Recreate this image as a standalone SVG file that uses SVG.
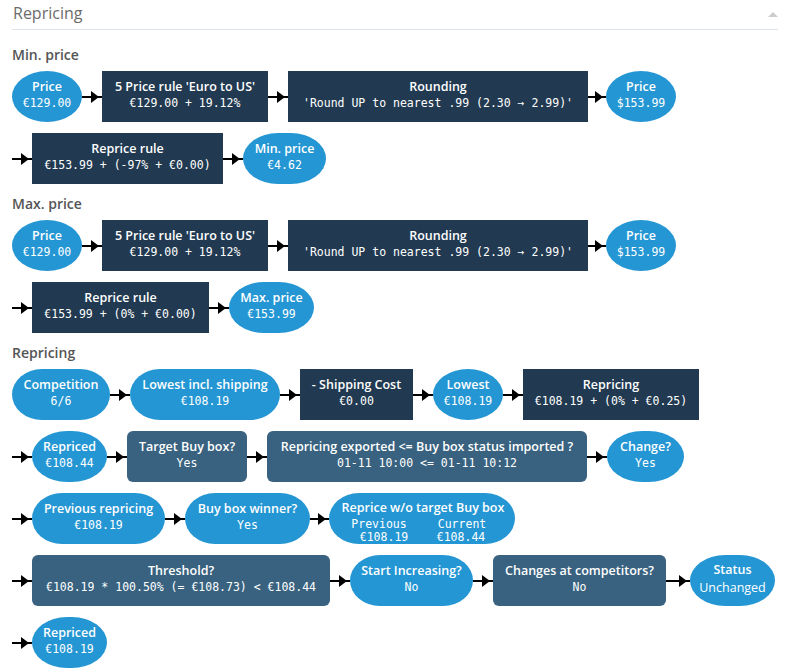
<svg xmlns="http://www.w3.org/2000/svg" width="788" height="672" viewBox="0 0 788 672">
<style>
.pill{fill:#2496d3}
.dk{fill:#213a51}
.md{fill:#38627f}
.t{font-family:"Open Sans",sans-serif;font-weight:600;font-size:12.5px;fill:#fff;text-anchor:middle}
.v{font-family:"DejaVu Sans Mono",monospace;font-size:11.5px;fill:#fff;text-anchor:middle}
.h{font-family:"Open Sans",sans-serif;font-size:14px;fill:#555}
.c{stroke:#000;stroke-width:2;fill:none}
</style>
<defs>
<g id="ah"><path d="M-4,-6 L4,0 L-4,6 Z" fill="#000"/></g>
</defs>
<rect width="788" height="672" fill="#fff"/>
<text x="13" y="19" class="h" style="font-size:16px;fill:#6b6b6b">Repricing</text>
<path d="M768,17 L773,12 L778,17 Z" fill="#ccc"/>
<line x1="12" y1="29.5" x2="778" y2="29.5" stroke="#dde3ea"/>
<text x="12" y="60" class="h" style="font-weight:600">Min. price</text>
<text x="12" y="209" class="h" style="font-weight:600">Max. price</text>
<text x="12" y="358" class="h" style="font-weight:600">Repricing</text>

<g id="connectors">
<g class="c">
<path d="M82,97H102M268,97H288M588,97H606M12,159H32M223,159H243"/>
<path d="M82,246H102M268,246H288M588,246H606M12,308H32M209,308H229"/>
<path d="M110,395H130M280,395H300M413,395H433M503,395H523"/>
<path d="M12,457H32M107,457H127M247,457H267M587,457H607"/>
<path d="M12,519H32M165,519H185M310,519H329"/>
<path d="M12,581H32M330,581H350M473,581H493M666,581H690M12,643H32"/>
</g>
<use href="#ah" x="95" y="97"/><use href="#ah" x="281" y="97"/><use href="#ah" x="599" y="97"/><use href="#ah" x="25" y="159"/><use href="#ah" x="236" y="159"/>
<use href="#ah" x="95" y="246"/><use href="#ah" x="281" y="246"/><use href="#ah" x="599" y="246"/><use href="#ah" x="25" y="308"/><use href="#ah" x="222" y="308"/>
<use href="#ah" x="123" y="395"/><use href="#ah" x="293" y="395"/><use href="#ah" x="426" y="395"/><use href="#ah" x="516" y="395"/>
<use href="#ah" x="25" y="457"/><use href="#ah" x="120" y="457"/><use href="#ah" x="260" y="457"/><use href="#ah" x="600" y="457"/>
<use href="#ah" x="25" y="519"/><use href="#ah" x="178" y="519"/><use href="#ah" x="322" y="519"/>
<use href="#ah" x="25" y="581"/><use href="#ah" x="343" y="581"/><use href="#ah" x="486" y="581"/><use href="#ah" x="683" y="581"/><use href="#ah" x="25" y="643"/>
</g>

<g id="n1"><rect x="12" y="71" width="70" height="51" rx="35" ry="25.5" class="pill"/><text x="47" y="91" class="t">Price</text><text x="47" y="107" class="v">€129.00</text></g>
<g id="n2"><rect x="102" y="71" width="166" height="51" class="dk"/><text x="185" y="91" class="t">5 Price rule 'Euro to US'</text><text x="185" y="107" class="v">€129.00 + 19.12%</text></g>
<g id="n3"><rect x="288" y="71" width="300" height="51" class="dk"/><text x="438" y="91" class="t">Rounding</text><text x="438" y="107" class="v">'Round UP to nearest .99 (2.30 → 2.99)'</text></g>
<g id="n4"><rect x="606" y="71" width="70" height="51" rx="35" ry="25.5" class="pill"/><text x="641" y="91" class="t">Price</text><text x="641" y="107" class="v">$153.99</text></g>
<g id="n5"><rect x="32" y="133" width="191" height="51" class="dk"/><text x="127.5" y="153" class="t">Reprice rule</text><text x="127.5" y="169" class="v">€153.99 + (-97% + €0.00)</text></g>
<g id="n6"><rect x="243" y="133" width="83" height="51" rx="35" ry="25.5" class="pill"/><text x="284.5" y="153" class="t">Min. price</text><text x="284.5" y="169" class="v">€4.62</text></g>

<g id="n7"><rect x="12" y="220" width="70" height="51" rx="35" ry="25.5" class="pill"/><text x="47" y="240" class="t">Price</text><text x="47" y="256" class="v">€129.00</text></g>
<g id="n8"><rect x="102" y="220" width="166" height="51" class="dk"/><text x="185" y="240" class="t">5 Price rule 'Euro to US'</text><text x="185" y="256" class="v">€129.00 + 19.12%</text></g>
<g id="n9"><rect x="288" y="220" width="300" height="51" class="dk"/><text x="438" y="240" class="t">Rounding</text><text x="438" y="256" class="v">'Round UP to nearest .99 (2.30 → 2.99)'</text></g>
<g id="n10"><rect x="606" y="220" width="70" height="51" rx="35" ry="25.5" class="pill"/><text x="641" y="240" class="t">Price</text><text x="641" y="256" class="v">$153.99</text></g>
<g id="n11"><rect x="32" y="282" width="177" height="51" class="dk"/><text x="120.5" y="302" class="t">Reprice rule</text><text x="120.5" y="318" class="v">€153.99 + (0% + €0.00)</text></g>
<g id="n12"><rect x="229" y="282" width="85" height="51" rx="35" ry="25.5" class="pill"/><text x="271.5" y="302" class="t">Max. price</text><text x="271.5" y="318" class="v">€153.99</text></g>

<g id="n13"><rect x="12" y="369" width="98" height="51" rx="30" ry="25.5" class="pill"/><text x="61" y="389" class="t">Competition</text><text x="61" y="405" class="v">6/6</text></g>
<g id="n14"><rect x="130" y="369" width="150" height="51" rx="30" ry="25.5" class="pill"/><text x="205" y="389" class="t">Lowest incl. shipping</text><text x="205" y="405" class="v">€108.19</text></g>
<g id="n15"><rect x="300" y="369" width="113" height="51" class="dk"/><text x="356.5" y="389" class="t">- Shipping Cost</text><text x="356.5" y="405" class="v">€0.00</text></g>
<g id="n16"><rect x="433" y="369" width="70" height="51" rx="35" ry="25.5" class="pill"/><text x="468" y="389" class="t">Lowest</text><text x="468" y="405" class="v">€108.19</text></g>
<g id="n17"><rect x="523" y="369" width="176" height="51" class="dk"/><text x="611" y="389" class="t">Repricing</text><text x="611" y="405" class="v">€108.19 + (0% + €0.25)</text></g>

<g id="n18"><rect x="32" y="431" width="75" height="51" rx="35" ry="25.5" class="pill"/><text x="69.5" y="451" class="t">Repriced</text><text x="69.5" y="467" class="v">€108.44</text></g>
<g id="n19"><rect x="127" y="431" width="120" height="51" rx="6" class="md"/><text x="187" y="451" class="t">Target Buy box?</text><text x="187" y="467" class="v">Yes</text></g>
<g id="n20"><rect x="267" y="431" width="320" height="51" rx="6" class="md"/><text x="427" y="451" class="t">Repricing exported &lt;= Buy box status imported ?</text><text x="427" y="467" class="v">01-11 10:00 &lt;= 01-11 10:12</text></g>
<g id="n21"><rect x="607" y="431" width="77" height="51" rx="35" ry="25.5" class="pill"/><text x="645.5" y="451" class="t">Change?</text><text x="645.5" y="467" class="v">Yes</text></g>

<g id="n22"><rect x="32" y="493" width="133" height="51" rx="30" ry="25.5" class="pill"/><text x="98.5" y="513" class="t">Previous repricing</text><text x="98.5" y="529" class="v">€108.19</text></g>
<g id="n23"><rect x="185" y="493" width="125" height="51" rx="30" ry="25.5" class="pill"/><text x="247.5" y="513" class="t">Buy box winner?</text><text x="247.5" y="529" class="v">Yes</text></g>
<g id="n24"><rect x="329" y="493" width="186" height="51" rx="30" ry="25.5" class="pill"/><text x="423" y="512" class="t">Reprice w/o target Buy box</text><text x="379" y="528" class="v">Previous</text><text x="462" y="528" class="v">Current</text><text x="384" y="541" class="v">€108.19</text><text x="461" y="541" class="v">€108.44</text></g>

<g id="n25"><rect x="32" y="555" width="298" height="51" rx="6" class="md"/><text x="181" y="575" class="t">Threshold?</text><text x="181" y="591" class="v">€108.19 * 100.50% (= €108.73) &lt; €108.44</text></g>
<g id="n26"><rect x="350" y="555" width="123" height="51" rx="30" ry="25.5" class="pill"/><text x="411.5" y="575" class="t">Start Increasing?</text><text x="411.5" y="591" class="v">No</text></g>
<g id="n27"><rect x="493" y="555" width="173" height="51" rx="6" class="md"/><text x="579.5" y="575" class="t">Changes at competitors?</text><text x="579.5" y="591" class="v">No</text></g>
<g id="n28"><rect x="690" y="555" width="85" height="51" rx="35" ry="25.5" class="pill"/><text x="732.5" y="574" class="t">Status</text><text x="732.5" y="592" class="t" style="font-weight:normal">Unchanged</text></g>

<g id="n29"><rect x="32" y="617" width="75" height="51" rx="35" ry="25.5" class="pill"/><text x="69.5" y="637" class="t">Repriced</text><text x="69.5" y="653" class="v">€108.19</text></g>
</svg>
